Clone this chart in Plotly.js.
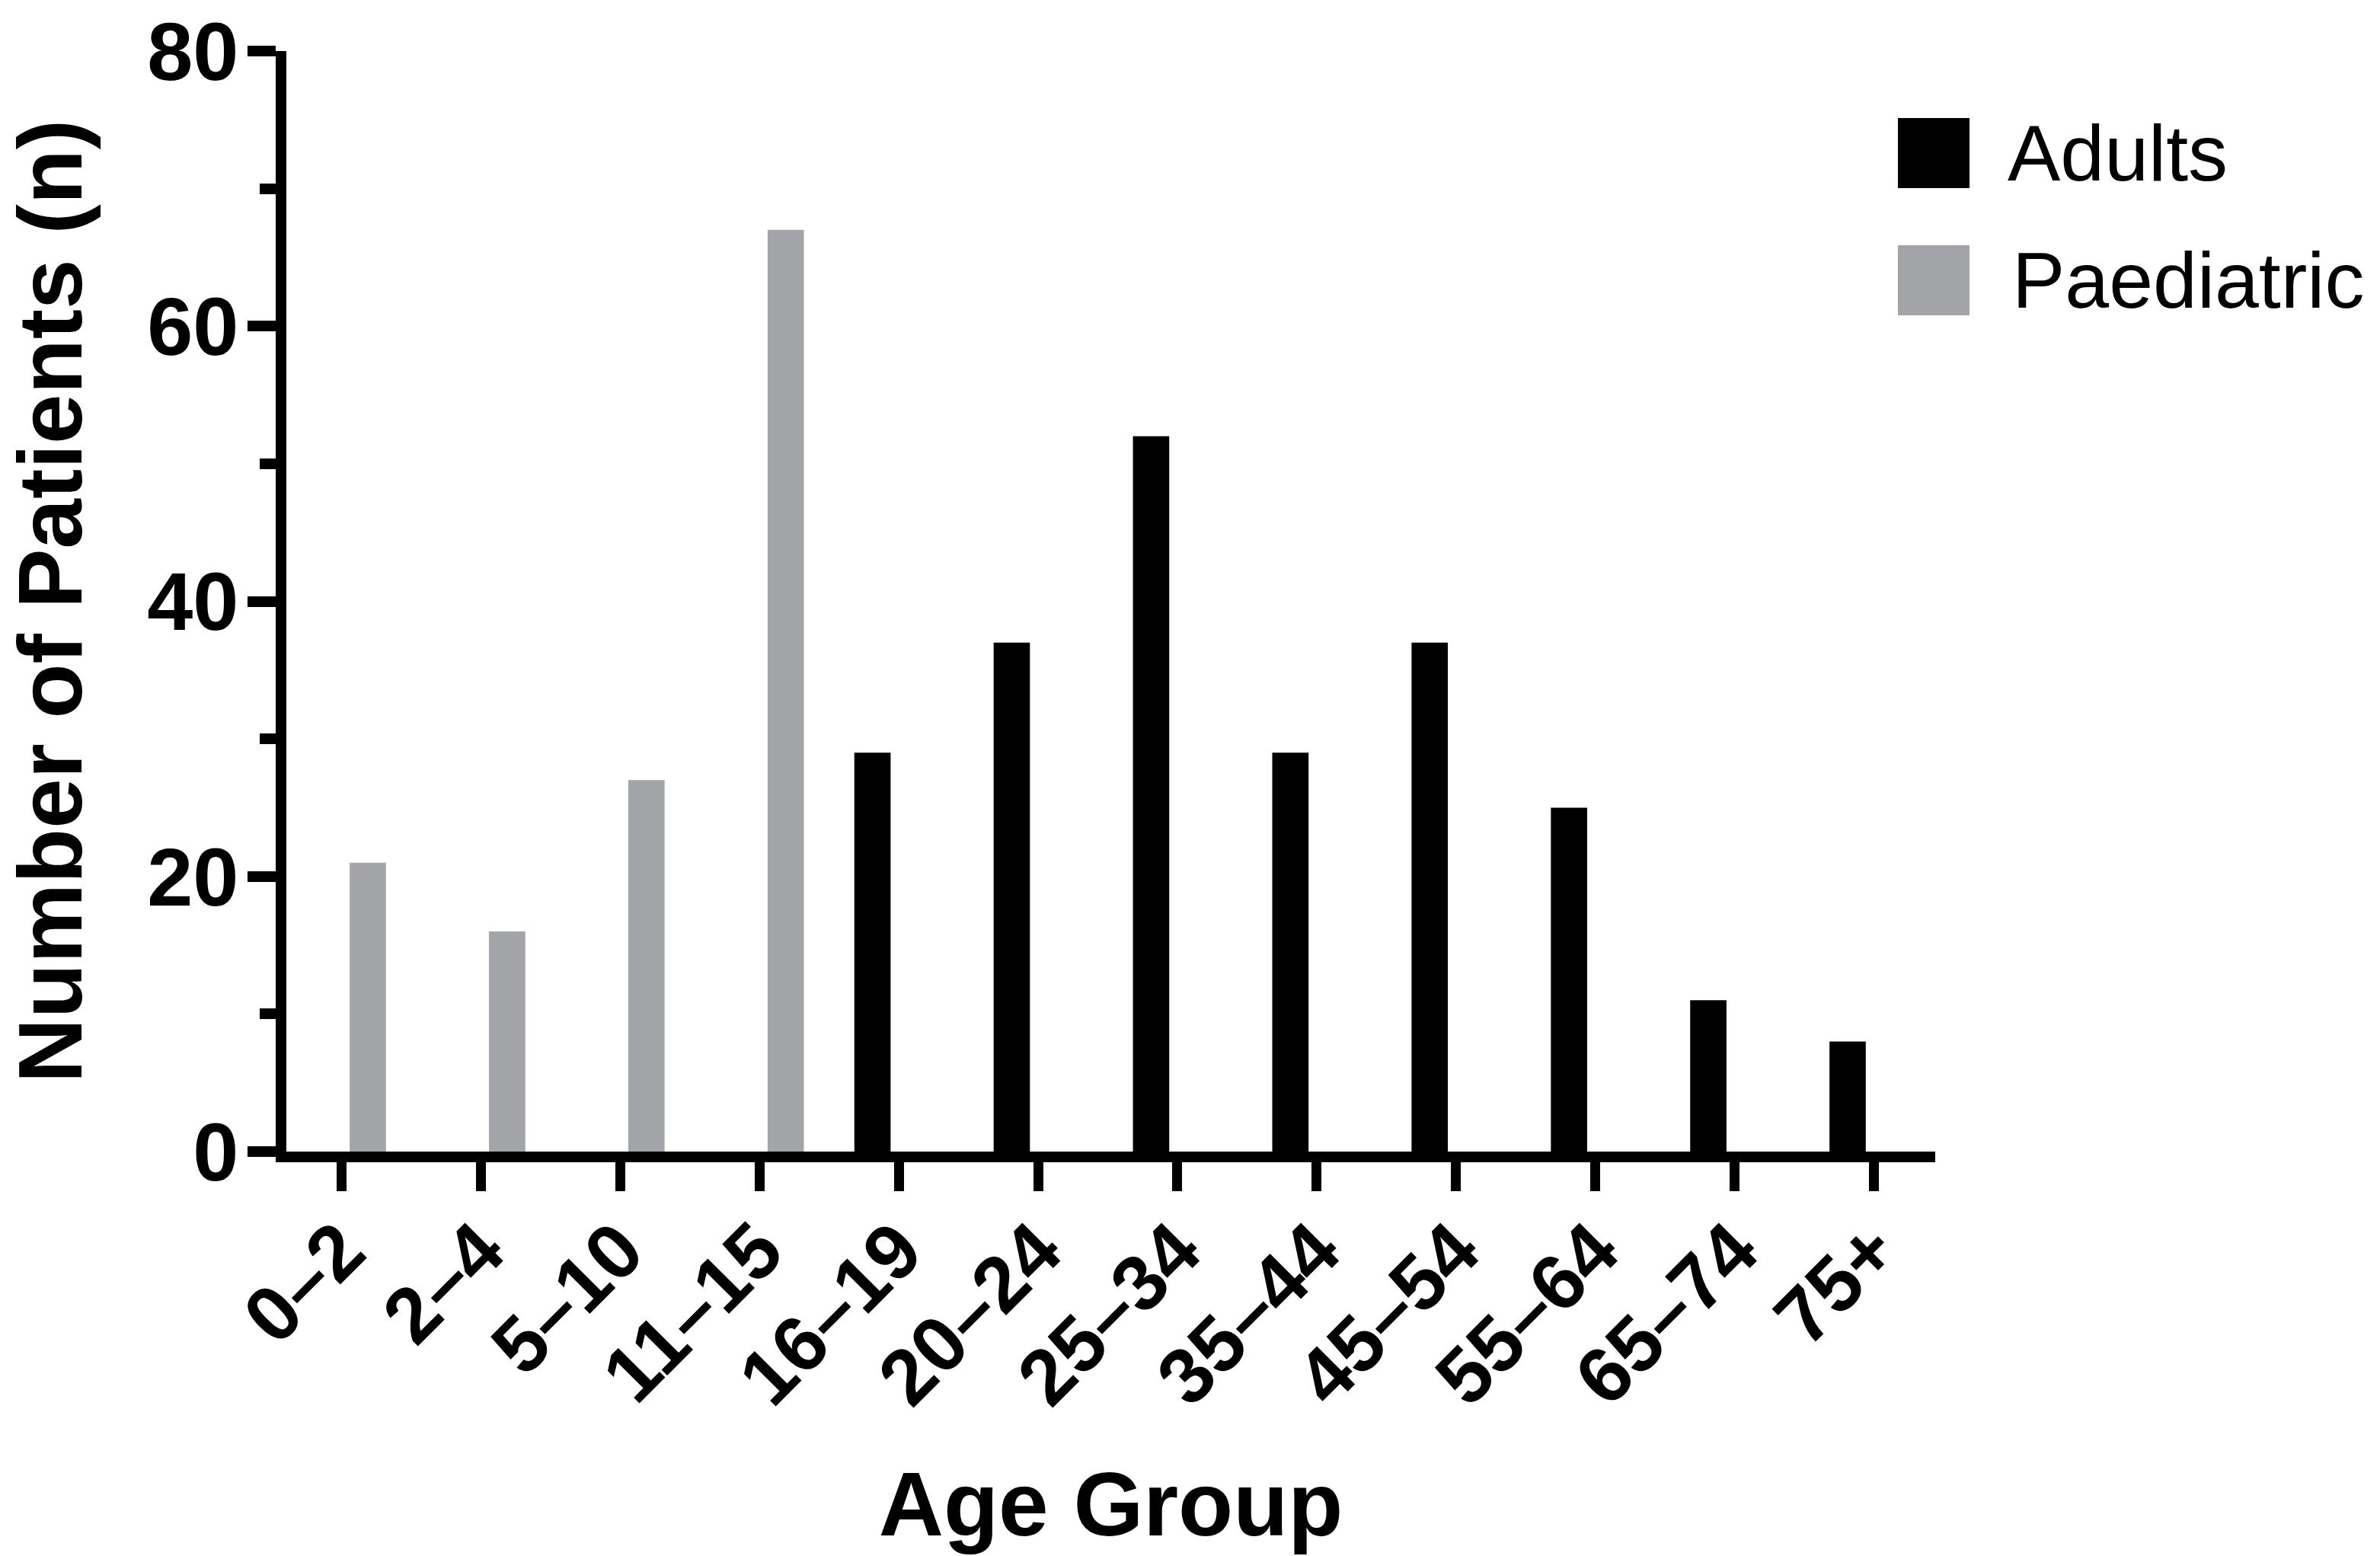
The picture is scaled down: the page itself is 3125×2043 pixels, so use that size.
<!DOCTYPE html>
<html>
<head>
<meta charset="utf-8">
<script src="https://cdn.plot.ly/plotly-3.0.1.min.js"></script>
<style>
html, body { margin: 0; padding: 0; background: #ffffff; }
#chart { width: 3125px; height: 2043px; }
</style>
</head>
<body>
<div id="chart"></div>
<script>
// ---- Data ----
const ageGroups = ["0–2", "2–4", "5–10", "11–15", "16–19", "20–24", "25–34", "35–44", "45–54", "55–64", "65–74", "75+"];
const adults = [0, 0, 0, 0, 29, 37, 52, 29, 37, 25, 11, 8];
const paediatric = [21, 16, 27, 67, 0, 0, 0, 0, 0, 0, 0, 0];
const seriesNames = ["Adults", "Paediatric"];
const seriesColors = ["#000000", "#A3A4A8"];
const yTickVals = [0, 20, 40, 60, 80];
const yTickText = ["0", "20", "40", "60", "80"];

// ---- Layout geometry ----
const W = 3125, H = 2043;
const L = 376, R = 2541, T = 67, B = 1512;
const FONT = '"Liberation Sans", Arial, Helvetica, sans-serif';

function px2paperX(px) { return (px - L) / (R - L); }
function px2paperY(py) { return (B - py) / (B - T); }

const traces = [
  { type: "bar", name: seriesNames[0], x: ageGroups, y: adults,
    marker: { color: seriesColors[0], line: { width: 0 } }, hoverinfo: "x+y+name" },
  { type: "bar", name: seriesNames[1], x: ageGroups, y: paediatric,
    marker: { color: seriesColors[1], line: { width: 0 } }, hoverinfo: "x+y+name" }
];

// Legend drawn as shapes + text (large square swatches like the original)
const legendBoxes = [[155, 247], [322, 414]];
const shapes = [];
const annotations = [];
seriesNames.forEach((nm, i) => {
  const [y0, y1] = legendBoxes[i];
  shapes.push({
    type: "rect", xref: "paper", yref: "paper",
    x0: px2paperX(2492), x1: px2paperX(2586),
    y0: px2paperY(y1), y1: px2paperY(y0),
    fillcolor: seriesColors[i], line: { width: 0 }
  });
  annotations.push({
    xref: "paper", yref: "paper",
    x: px2paperX(2634 + (i === 1 ? 6 : 0)), y: px2paperY((y0 + y1) / 2),
    xanchor: "left", yanchor: "middle", showarrow: false,
    text: nm, font: { family: FONT, size: 104, color: "#000" }
  });
});

const layout = {
  width: W, height: H,
  margin: { l: L, r: W - R, t: T, b: H - B, pad: 0 },
  paper_bgcolor: "#ffffff", plot_bgcolor: "#ffffff",
  barmode: "group", bargap: 0.245, bargroupgap: 0.31,
  showlegend: false,
  font: { family: FONT, color: "#000000" },
  xaxis: {
    type: "category", range: [-0.396, 11.44],
    showline: true, linewidth: 14, linecolor: "#000",
    ticks: "outside", ticklen: 38, tickwidth: 13, tickcolor: "#000",
    tickangle: -45, ticklabelstandoff: -24,
    tickfont: { family: FONT, size: 103, weight: "bold", color: "#000" },
    showgrid: false, zeroline: false, automargin: false,
    title: { text: "Age Group", font: { family: FONT, size: 118, weight: "bold", color: "#000" }, standoff: 74 }
  },
  yaxis: {
    range: [0, 80], tickmode: "array", tickvals: yTickVals, ticktext: yTickText,
    showline: true, linewidth: 14, linecolor: "#000",
    ticks: "outside", ticklen: 37, tickwidth: 14, tickcolor: "#000",
    ticklabelstandoff: -10,
    minor: { dtick: 10, tick0: 0, ticks: "outside", ticklen: 21, tickwidth: 14, tickcolor: "#000", showgrid: false },
    tickfont: { family: FONT, size: 108, weight: "bold", color: "#000" },
    showgrid: false, zeroline: false, automargin: false,
    title: { text: "Number of Patients (n)", font: { family: FONT, size: 118, weight: "bold", color: "#000" }, standoff: 60 }
  },
  shapes: shapes,
  annotations: annotations
};

Plotly.newPlot("chart", traces, layout, { displayModeBar: false, staticPlot: true });
</script>
</body>
</html>
